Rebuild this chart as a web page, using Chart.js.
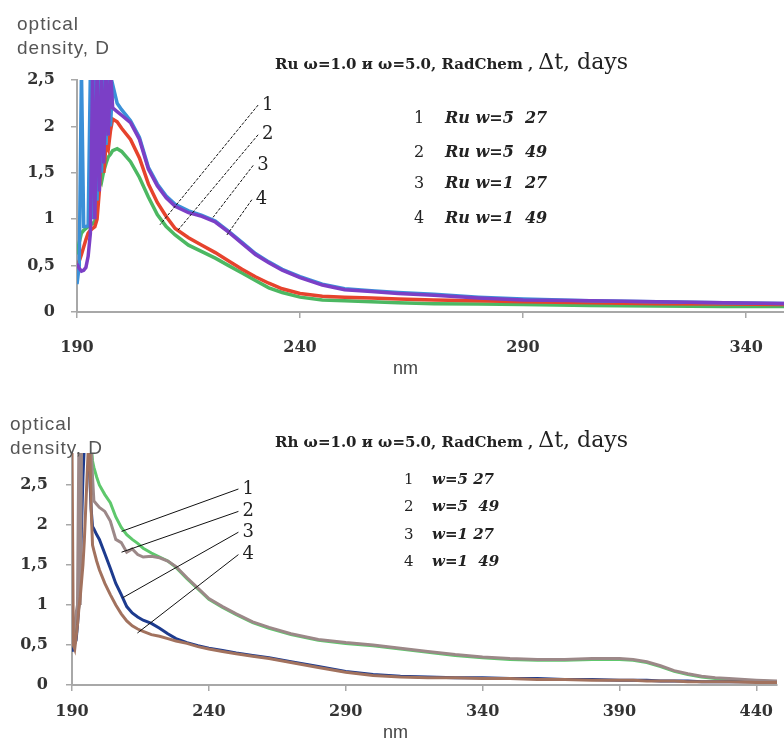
<!DOCTYPE html>
<html>
<head>
<meta charset="utf-8">
<script src="https://cdn.jsdelivr.net/npm/chart.js@4.4.1/dist/chart.umd.min.js"></script>
<style>
    html, body { margin: 0; padding: 0; background: #fff; }
    body { width: 784px; height: 744px; position: relative; overflow: hidden; font-family: 'DejaVu Serif', serif; }
    .box { position: absolute; left: 0; width: 784px; }
    .txt { position: absolute; white-space: pre; color: #222; }
    .ylab { font-family: 'Liberation Sans', Arial, sans-serif; font-size: 19px; letter-spacing: 1px; color: #555; line-height: 24px; }
    .ttl b { font-size: 15px; }
    .ttl span { font-size: 22px; }
    .nm { font-family: 'Liberation Sans', Arial, sans-serif; font-size: 18px; color: #444; }
    .leg { font-size: 16px; }
    .leg i { font-weight: bold; }
</style>
</head>
<body>

<div class="box" style="top:0;height:380px;"><canvas id="ruChart"></canvas></div>
<div class="box" style="top:380px;height:364px;"><canvas id="rhChart"></canvas></div>

<div class="txt ylab" style="left:17px;top:12px;">optical
density, D</div>
<div class="txt ttl" style="left:275px;top:49px;"><b>Ru ω=1.0 и ω=5.0, RadChem ,</b> <span>Δt, days</span></div>
<div class="txt nm" style="left:393px;top:358px;">nm</div>
<div id="ruLegend"></div>

<div class="txt ylab" style="left:10px;top:412px;">optical
density, D</div>
<div class="txt ttl" style="left:275px;top:427px;"><b>Rh ω=1.0 и ω=5.0, RadChem ,</b> <span>Δt, days</span></div>
<div class="txt nm" style="left:383px;top:722px;">nm</div>
<div id="rhLegend"></div>

<script>
// --- Ru chart data (wavelength, nm / optical density) ---
const ruNm = [190, 190.5, 191, 191.5, 192, 192.5, 193, 193.5, 194, 194.5,
    195, 195.5, 196, 196.5, 197, 197.5, 198, 199, 200, 202,
    204, 206, 208, 210, 212, 215, 218, 221, 224, 227,
    230, 233, 236, 240, 245, 250, 256, 262, 270, 280,
    290, 305, 320, 335, 349];
const ruCurve1 = [0.62, 0.75, 0.85, 0.88, 0.9, 0.92, 0.94, 0.95, 0.98, 1.12,
    1.45, 1.4, 1.52, 1.6, 1.67, 1.7, 1.74, 1.76, 1.73, 1.62,
    1.45, 1.24, 1.05, 0.92, 0.83, 0.72, 0.65, 0.58, 0.5, 0.42,
    0.34, 0.26, 0.21, 0.16, 0.13, 0.12, 0.11, 0.1, 0.09, 0.085,
    0.08, 0.07, 0.065, 0.06, 0.06];
const ruCurve2 = [0.5, 0.55, 0.62, 0.7, 0.78, 0.85, 0.88, 0.9, 0.92, 1.0,
    1.3, 1.78, 1.5, 1.8, 1.75, 1.95, 2.08, 2.05, 1.98, 1.86,
    1.66, 1.38, 1.18, 1.03, 0.9, 0.8, 0.72, 0.64, 0.55, 0.46,
    0.38, 0.31, 0.25, 0.2, 0.17, 0.16, 0.15, 0.14, 0.13, 0.12,
    0.11, 0.1, 0.09, 0.085, 0.08];
const ruCurve3 = [0.3, 0.5, 2.6, 0.92, 0.92, 0.93, 2.6, 1.0, 2.6, 1.2,
    2.6, 1.5, 2.6, 1.8, 2.6, 2.0, 2.45, 2.25, 2.18, 2.06,
    1.88, 1.56, 1.38, 1.25, 1.16, 1.09, 1.04, 0.98, 0.87, 0.75,
    0.63, 0.54, 0.46, 0.38, 0.3, 0.25, 0.23, 0.21, 0.19, 0.16,
    0.14, 0.12, 0.11, 0.1, 0.09];
const ruCurve4 = [0.52, 0.47, 0.44, 0.45, 0.48, 0.6, 0.85, 2.6, 1.0, 2.6,
    1.3, 2.6, 1.6, 2.6, 1.9, 2.6, 2.2, 2.16, 2.12, 2.04,
    1.86, 1.54, 1.36, 1.23, 1.14, 1.07, 1.03, 0.97, 0.86, 0.74,
    0.62, 0.53, 0.45, 0.37, 0.29, 0.24, 0.22, 0.2, 0.18, 0.15,
    0.13, 0.12, 0.11, 0.1, 0.09];
const ruLegend = ['Ru w=5  27', 'Ru w=5  49', 'Ru w=1  27', 'Ru w=1  49'];
const ruXTicks = [190, 240, 290, 340];
const ruYTicks = [0, 0.5, 1, 1.5, 2, 2.5];
// callouts: [label, x1, y1, x2, y2] in nm / D
const ruCallouts = [
    ['1', 230.6, 2.23, 208.6, 0.94],
    ['2', 230.6, 1.91, 212.6, 0.88],
    ['3', 229.5, 1.58, 220.5, 1.02],
    ['4', 229.2, 1.21, 223.6, 0.83]
];

// --- Rh chart data ---
const rhNm = [190, 190.5, 191, 191.5, 192, 192.5, 193, 193.5, 194, 194.5,
    195, 195.5, 196, 196.5, 197, 197.5, 198, 199, 200, 202,
    204, 206, 208, 210, 212, 214, 216, 219, 222, 225,
    228, 232, 236, 240, 245, 250, 256, 262, 270, 280,
    290, 300, 310, 320, 330, 340, 350, 360, 370, 380,
    390, 395, 400, 405, 410, 415, 420, 425, 430, 440,
    448];
const rhCurve1 = [0.45, 0.5, 0.6, 0.7, 0.85, 1.0, 1.5, 3, 3, 3,
    3, 3, 3, 3, 3, 2.8, 2.72, 2.6, 2.5, 2.38,
    2.28, 2.1, 1.97, 1.88, 1.82, 1.77, 1.71, 1.65, 1.6, 1.55,
    1.47, 1.33, 1.2, 1.07, 0.97, 0.88, 0.78, 0.71, 0.63, 0.56,
    0.52, 0.49, 0.45, 0.41, 0.37, 0.34, 0.32, 0.31, 0.31, 0.32,
    0.32, 0.31, 0.28, 0.23, 0.17, 0.13, 0.1, 0.08, 0.07, 0.05,
    0.04];
const rhCurve2 = [0.5, 0.6, 0.75, 0.9, 1.0, 3, 1.0, 3, 3, 3,
    3, 3, 3, 3, 3, 2.6, 2.3, 2.26, 2.22, 2.17,
    2.05, 1.82, 1.78, 1.66, 1.7, 1.63, 1.6, 1.61, 1.59, 1.55,
    1.48, 1.34, 1.21, 1.08, 0.98, 0.89, 0.79, 0.72, 0.64, 0.57,
    0.53, 0.5, 0.46, 0.42, 0.38, 0.35, 0.33, 0.32, 0.32, 0.33,
    0.33, 0.32, 0.29, 0.24, 0.18, 0.14, 0.11, 0.09, 0.08, 0.06,
    0.05];
const rhCurve3 = [0.42, 0.45, 0.52, 0.56, 0.75, 1.0, 1.4, 2.0, 2.6, 3,
    3, 3, 3, 2.6, 2.2, 1.98, 1.95, 1.88, 1.82, 1.64,
    1.46, 1.27, 1.13, 0.98, 0.9, 0.85, 0.81, 0.77, 0.71, 0.64,
    0.58, 0.53, 0.49, 0.46, 0.43, 0.4, 0.37, 0.34, 0.29, 0.23,
    0.17, 0.13, 0.11, 0.1, 0.09, 0.09, 0.08, 0.08, 0.07, 0.07,
    0.06, 0.06, 0.06, 0.05, 0.05, 0.05, 0.04, 0.04, 0.04, 0.04,
    0.03];
const rhCurve4 = [2.95, 0.5, 0.45, 0.6, 0.75, 0.95, 1.1, 1.3, 1.5, 1.8,
    2.2, 2.6, 3, 3, 2.2, 1.75, 1.68, 1.55, 1.44, 1.27,
    1.13, 1.0, 0.89, 0.8, 0.74, 0.7, 0.67, 0.63, 0.61, 0.58,
    0.55, 0.52, 0.48, 0.45, 0.42, 0.39, 0.36, 0.33, 0.28, 0.22,
    0.16, 0.12, 0.1, 0.09, 0.09, 0.08, 0.08, 0.07, 0.07, 0.06,
    0.06, 0.06, 0.05, 0.05, 0.05, 0.04, 0.04, 0.04, 0.04, 0.03,
    0.03];
const rhLegend = ['w=5 27', 'w=5  49', 'w=1 27', 'w=1  49'];
const rhXTicks = [190, 240, 290, 340, 390, 440];
const rhYTicks = [0, 0.5, 1, 1.5, 2, 2.5];
const rhCallouts = [
    ['1', 250.8, 2.45, 208.1, 1.92],
    ['2', 250.8, 2.17, 208.1, 1.66],
    ['3', 250.8, 1.91, 208.5, 1.09],
    ['4', 250.8, 1.63, 213.9, 0.65]
];

// --- legends (html) ---
function buildLegend(id, items, left, textLeft, tops, size) {
    const el = document.getElementById(id);
    items.forEach((t, i) => {
        const row = document.createElement('div');
        row.className = 'txt leg';
        row.style.left = left + 'px';
        row.style.top = tops[i] + 'px';
        row.style.fontSize = size + 'px';
        row.innerHTML = (i + 1) + '<i style="position:absolute;left:' + (textLeft - left) + 'px;">' + t + '</i>';
        el.appendChild(row);
    });
}
buildLegend('ruLegend', ruLegend, 414, 445, [108, 142, 173, 208], 16);
buildLegend('rhLegend', rhLegend, 404, 432, [470, 497, 525, 552], 15);

// --- callout lines with numbers ---
const calloutPlugin = (items, dashed) => ({
    id: 'callouts',
    afterDatasetsDraw(chart) {
        const { ctx } = chart;
        const xs = chart.scales.x, ys = chart.scales.y;
        ctx.save();
        ctx.strokeStyle = '#111';
        ctx.lineWidth = 1;
        if (dashed) ctx.setLineDash([3, 1.5]);
        ctx.font = '18px "DejaVu Serif"';
        ctx.fillStyle = '#222';
        ctx.textBaseline = 'bottom';
        items.forEach(([label, x1, y1, x2, y2]) => {
            const px1 = xs.getPixelForValue(x1), py1 = ys.getPixelForValue(y1);
            ctx.beginPath();
            ctx.moveTo(px1, py1);
            ctx.lineTo(xs.getPixelForValue(x2), ys.getPixelForValue(y2));
            ctx.stroke();
            ctx.fillText(label, px1 + 4, py1 + 9);
        });
        ctx.restore();
    }
});

const tickFont = { family: "'DejaVu Serif'", weight: 'bold', size: 16 };

function makeChart(canvasId, o) {
    const datasets = o.series.map((vals, i) => ({
        label: String(i + 1),
        data: vals.map((v, k) => ({ x: o.nm[k], y: v })),
        borderColor: o.colors[i],
        borderWidth: o.lineWidth,
        pointRadius: 0,
        tension: 0,
        fill: false,
        clip: 0,
        order: o.order[i]
    }));

    return new Chart(document.getElementById(canvasId), {
        type: 'line',
        data: { datasets },
        options: {
            responsive: true,
            maintainAspectRatio: false,
            animation: false,
            layout: { padding: { top: o.top, left: 0, right: 0, bottom: 0 } },
            plugins: {
                legend: { display: false },
                tooltip: { enabled: false }
            },
            scales: {
                x: {
                    type: 'linear',
                    min: o.xTicks[0],
                    max: o.xMax,
                    afterBuildTicks: (s) => { s.ticks = o.xTicks.map(v => ({ value: v })); },
                    afterFit: (s) => { s.height = o.xAxisH; },
                    border: { color: '#a8a8a8', width: 2 },
                    grid: { display: true, drawOnChartArea: false, drawTicks: true, tickLength: 6, color: '#a8a8a8', lineWidth: 1.5 },
                    ticks: { font: tickFont, color: '#333', padding: o.xPad, maxRotation: 0, autoSkip: false }
                },
                y: {
                    min: 0,
                    max: o.yMax,
                    afterBuildTicks: (s) => { s.ticks = o.yTicks.map(v => ({ value: v })); },
                    afterFit: (s) => { s.width = o.left; },
                    border: { color: '#a8a8a8', width: 2 },
                    grid: { display: true, drawOnChartArea: false, drawTicks: true, tickLength: 6, color: '#a8a8a8', lineWidth: 1.5 },
                    ticks: {
                        font: tickFont, color: '#333', padding: o.yPad,
                        callback: (v) => String(v).replace('.', ',')
                    }
                }
            }
        },
        plugins: [calloutPlugin(o.callouts, o.dashed)]
    });
}

makeChart('ruChart', {
    nm: ruNm,
    series: [ruCurve1, ruCurve2, ruCurve3, ruCurve4],
    colors: ['#4cb862', '#e6432d', '#3b90d8', '#7b3fc6'],
    order: [3, 2, 1, 0],
    lineWidth: 3.5,
    xTicks: ruXTicks, yTicks: ruYTicks,
    xMax: 348.5, yMax: 2.5,
    top: 80, left: 77, xAxisH: 68,
    xPad: 20, yPad: 16,
    callouts: ruCallouts, dashed: true
});

makeChart('rhChart', {
    nm: rhNm,
    series: [rhCurve1, rhCurve2, rhCurve3, rhCurve4],
    colors: ['#5ec86c', '#9c8888', '#1d3b8e', '#a2725e'],
    order: [3, 1, 2, 0],
    lineWidth: 3,
    xTicks: rhXTicks, yTicks: rhYTicks,
    xMax: 447.6, yMax: 2.9,
    top: 73, left: 72, xAxisH: 59,
    xPad: 11, yPad: 18,
    callouts: rhCallouts, dashed: false
});
</script>
</body>
</html>
